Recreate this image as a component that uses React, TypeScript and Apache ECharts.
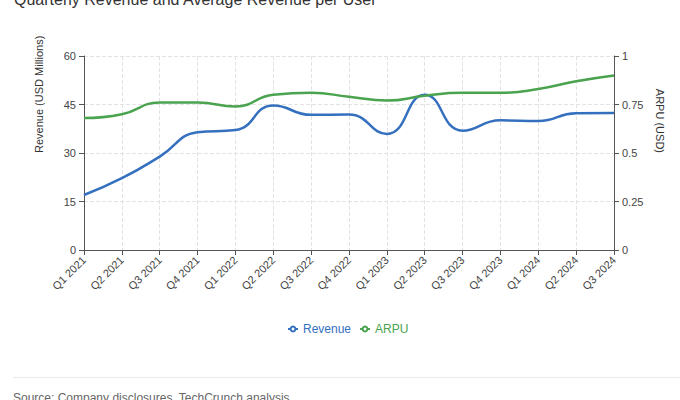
import React, { useEffect, useRef } from "react";
import * as echarts from "echarts";

const categories = [
  "Q1 2021", "Q2 2021", "Q3 2021", "Q4 2021",
  "Q1 2022", "Q2 2022", "Q3 2022", "Q4 2022",
  "Q1 2023", "Q2 2023", "Q3 2023", "Q4 2023",
  "Q1 2024", "Q2 2024", "Q3 2024",
];
const revenue = [17.0, 22.2, 28.9, 36.4, 37.1, 44.7, 41.8, 41.9, 35.9, 48.0, 36.9, 40.1, 39.9, 42.3, 42.4];
const arpu = [0.68, 0.70, 0.76, 0.76, 0.74, 0.80, 0.81, 0.79, 0.77, 0.795, 0.81, 0.81, 0.83, 0.87, 0.90];
const revenueTicks = [0, 15, 30, 45, 60];
const arpuTicks = [0, 0.25, 0.5, 0.75, 1];

const TITLE = "Quarterly Revenue and Average Revenue per User";
const SOURCE = "Source: Company disclosures, TechCrunch analysis";
const BLUE = "#3570bf";
const GREEN = "#4aa34f";
const FONT = "'Liberation Sans', Arial, Helvetica, sans-serif";

export default function App() {
  const ref = useRef<HTMLDivElement>(null);
  useEffect(() => {
    const chart = echarts.init(ref.current!, null, { renderer: "svg" });
    const axisCommon = {
      axisLine: { show: true, lineStyle: { color: "#555", width: 1 } },
      axisTick: { show: true, length: 5, lineStyle: { color: "#555" } },
      axisLabel: { color: "#444", fontSize: 11, fontFamily: FONT },
      splitLine: { show: true, lineStyle: { color: "#e3e3e3", type: "dashed" } },
      nameTextStyle: { color: "#333", fontSize: 11, fontFamily: FONT },
    };
    chart.setOption({
      animation: false,
      textStyle: { fontFamily: FONT },
      grid: { left: 84, right: 66, top: 56, bottom: 150, containLabel: false },
      legend: {
        show: true,
        top: 318,
        left: 282,
        itemWidth: 10,
        itemHeight: 6,
        itemGap: 8,
        textStyle: { fontSize: 12, fontFamily: FONT },
        data: [
          { name: "Revenue", textStyle: { color: BLUE } },
          { name: "ARPU", textStyle: { color: GREEN } },
        ],
      },
      xAxis: {
        type: "category",
        data: categories,
        boundaryGap: false,
        ...axisCommon,
        axisLabel: { ...axisCommon.axisLabel, rotate: 45, margin: 8 },
        axisTick: { ...axisCommon.axisTick, alignWithLabel: true },
      },
      yAxis: [
        {
          type: "value",
          min: revenueTicks[0],
          max: revenueTicks[revenueTicks.length - 1],
          interval: revenueTicks[1] - revenueTicks[0],
          name: "Revenue (USD Millions)",
          nameLocation: "middle",
          nameGap: 40,
          ...axisCommon,
          nameTextStyle: { ...axisCommon.nameTextStyle, align: "left" },
        },
        {
          type: "value",
          min: arpuTicks[0],
          max: arpuTicks[arpuTicks.length - 1],
          interval: arpuTicks[1] - arpuTicks[0],
          name: "ARPU (USD)",
          nameLocation: "middle",
          nameGap: 31,
          nameRotate: -90,
          ...axisCommon,
          splitLine: { show: false },
          nameTextStyle: { ...axisCommon.nameTextStyle, align: "right" },
        },
      ],
      series: [
        {
          name: "Revenue",
          type: "line",
          data: revenue,
          yAxisIndex: 0,
          smooth: true,
          showSymbol: false,
          symbol: "emptyCircle",
          symbolSize: 5,
          itemStyle: { color: BLUE },
          lineStyle: { color: BLUE, width: 2.5 },
        },
        {
          name: "ARPU",
          type: "line",
          data: arpu,
          yAxisIndex: 1,
          smooth: true,
          showSymbol: false,
          symbol: "emptyCircle",
          symbolSize: 5,
          itemStyle: { color: GREEN },
          lineStyle: { color: GREEN, width: 2.5 },
        },
      ],
      graphic: [
        {
          type: "text",
          left: 14,
          top: -9,
          style: { text: TITLE, fontSize: 16, fill: "#333", fontFamily: FONT },
        },
        {
          type: "line",
          shape: { x1: 13, y1: 377.5, x2: 680, y2: 377.5 },
          style: { stroke: "#eaeaea", lineWidth: 1 },
        },
        {
          type: "text",
          left: 13,
          top: 392,
          style: { text: SOURCE, fontSize: 12, fill: "#666", fontFamily: FONT },
        },
      ],
    });
    return () => chart.dispose();
  }, []);
  return (
    <div
      ref={ref}
      style={{ position: "fixed", left: 0, top: 0, width: 680, height: 400, background: "#fff" }}
    />
  );
}
